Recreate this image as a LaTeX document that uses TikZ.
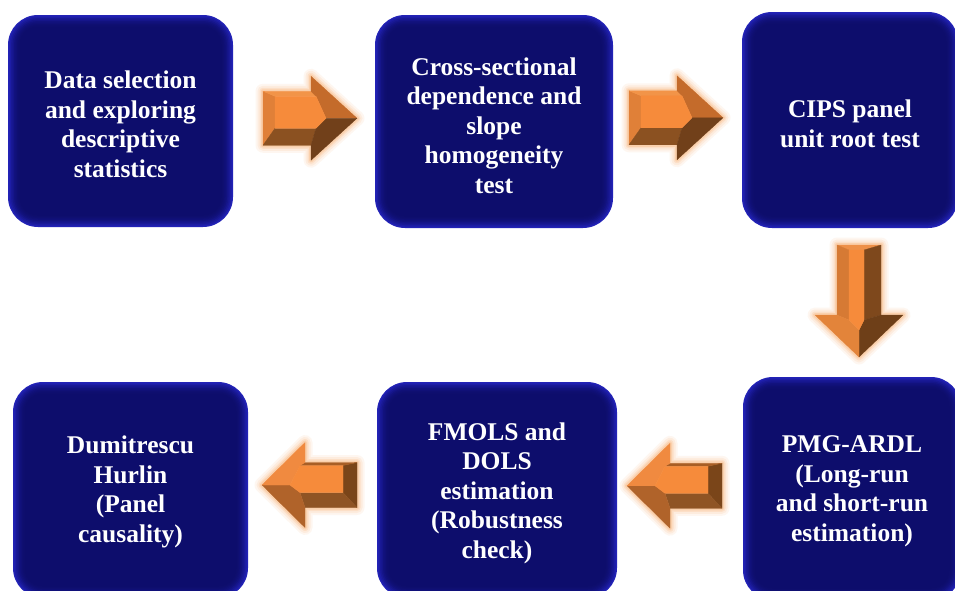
\documentclass[tikz,border=0pt]{standalone}
\usepackage{fontspec}
\setmainfont{Liberation Serif}
\usetikzlibrary{calc}
\definecolor{edgeblue}{RGB}{34,34,182}
\definecolor{coreblue}{RGB}{13,13,108}
\definecolor{front}{RGB}{246,139,59}
\definecolor{glowc}{RGB}{248,165,95}
% right-pointing arrows
\definecolor{raP}{RGB}{242,148,72}
\definecolor{raM}{RGB}{139,81,33}
\definecolor{raT}{RGB}{224,128,56}
\definecolor{raHP}{RGB}{196,107,43}
\definecolor{raHM}{RGB}{113,64,26}
\def\twra{12}
% down-pointing arrow
\definecolor{daP}{RGB}{126,72,28}
\definecolor{daM}{RGB}{214,122,52}
\definecolor{daT}{RGB}{238,144,72}
\definecolor{daHP}{RGB}{110,63,24}
\definecolor{daHM}{RGB}{227,132,58}
\def\twda{5}
% left-pointing arrows
\definecolor{laP}{RGB}{143,84,36}
\definecolor{laM}{RGB}{168,94,37}
\definecolor{laT}{RGB}{122,69,25}
\definecolor{laHP}{RGB}{176,99,42}
\definecolor{laHM}{RGB}{240,138,64}
\def\twla{14}
\tikzset{
  box/.style={rounded corners=30pt, fill=edgeblue, inner sep=0pt,
    path picture={
      \foreach \ii in {1,...,8}{
        \pgfmathsetmacro\dd{1.5*\ii}
        \pgfmathtruncatemacro\pp{100*(1-(1-\ii/8)^2)}
        \pgfmathsetmacro\rr{30-\dd}
        \fill[coreblue!\pp!edgeblue, rounded corners=\rr pt]
          ($(path picture bounding box.north west)+(\dd pt,-\dd pt)$) rectangle
          ($(path picture bounding box.south east)+(-\dd pt,\dd pt)$);
      }
    }},
  boxtext/.style={text=white, align=center, inner sep=0pt,
    font=\bfseries\fontsize{25.5}{29.5}\selectfont},
  face/.style={line width=0.3pt, line join=round},
}
\newcommand\bevarrow[9][ra]{%
  \begin{scope}[shift={(#2)}, rotate=#3, x=1pt, y=1pt]
    \pgfmathsetmacro\aL{#4/2}
    \pgfmathsetmacro\ah{#5}
    \pgfmathsetmacro\aH{#6}
    \pgfmathsetmacro\axb{#4/2-#7}
    \pgfmathsetmacro\adp{#8}
    \pgfmathsetmacro\adm{#9}
    \pgfmathsetmacro\adt{\csname tw#1\endcsname}
    \coordinate (oA) at (-\aL,\ah);
    \coordinate (oB) at (\axb,\ah);
    \coordinate (oC) at (\axb,\aH);
    \coordinate (oD) at (\aL,0);
    \coordinate (oE) at (\axb,-\aH);
    \coordinate (oF) at (\axb,-\ah);
    \coordinate (oG) at (-\aL,-\ah);
    \coordinate (ia) at (-\aL+\adt,\ah-\adp);
    \coordinate (ib) at (\axb+5,\ah-\adp);
    \coordinate (ip) at (\axb+15,0);
    \coordinate (if) at (\axb+5,-\ah+\adm);
    \coordinate (ig) at (-\aL+\adt,-\ah+\adm);
    \foreach \w/\o in {15/0.09,11/0.12,7/0.18,4/0.25}
      \draw[glowc, line width=\w pt, opacity=\o, line join=round]
        (oA)--(oB)--(oC)--(oD)--(oE)--(oF)--(oG)--cycle;
    \filldraw[face, fill=#1T, draw=#1T] (oA)--(ia)--(ig)--(oG)--cycle;
    \filldraw[face, fill=#1P, draw=#1P] (oA)--(oB)--(ib)--(ia)--cycle;
    \filldraw[face, fill=#1M, draw=#1M] (oG)--(oF)--(if)--(ig)--cycle;
    \filldraw[face, fill=#1HP, draw=#1HP] (oB)--(oC)--(oD)--(ip)--(ib)--cycle;
    \filldraw[face, fill=#1HM, draw=#1HM] (oD)--(oE)--(oF)--(if)--(ip)--cycle;
    \filldraw[face, fill=front, draw=front] (ia)--(ib)--(ip)--(if)--(ig)--cycle;
  \end{scope}}
\begin{document}
\begin{tikzpicture}[x=1pt, y=-1pt]
  \useasboundingbox (0,0) rectangle (955,590);
  \clip (0,0) rectangle (955,590);
  \fill[white] (0,0) rectangle (955,590);

  \node[box, minimum width=225pt, minimum height=212pt] (b1) at (120.5,121) {};
  \node[box, minimum width=238pt, minimum height=213pt] (b2) at (494,121.5) {};
  \node[box, minimum width=216pt, minimum height=216pt] (b3) at (850,120) {};
  \node[box, minimum width=218pt, minimum height=223pt] (b6) at (852,488.5) {};
  \node[box, minimum width=240pt, minimum height=216pt] (b5) at (497,490) {};
  \node[box, minimum width=235pt, minimum height=216pt] (b4) at (130.5,490) {};

  \node[boxtext] (t1) at ([yshift=-3.5pt]b1.center)
    {Data selection\\and exploring\\descriptive\\statistics};
  \node[boxtext] (t2) at ([yshift=-4pt]b2.center)
    {Cross-sectional\\dependence and\\slope\\homogeneity\\test};
  \node[boxtext] (t3) at ([yshift=-4pt]b3.center)
    {CIPS panel\\unit root test};
  \node[boxtext] (t6) at ([yshift=-3pt]b6.center)
    {PMG-ARDL\\(Long-run\\and short-run\\estimation)};
  \node[boxtext] (t5) at ([yshift=-3pt]b5.center)
    {FMOLS and\\DOLS\\estimation\\(Robustness\\check)};
  \node[boxtext] (t4) at ([yshift=-2pt]b4.center)
    {Dumitrescu\\Hurlin\\(Panel\\causality)};

  \coordinate (a1) at ($(b1.east)!0.5!(b2.west)+(6,-3)$);
  \coordinate (a2) at ($(b2.east)!0.5!(b3.west)+(-1.5,-3)$);
  \coordinate (a3) at ($(b3.south)!0.5!(b6.north)+(8,-1.5)$);
  \coordinate (a4) at ($(b6.west)!0.5!(b5.east)+(-5.5,-3.5)$);
  \coordinate (a5) at ($(b5.west)!0.5!(b4.east)+(-3,-5)$);

  \bevarrow[ra]{a1}{0}{94}{27}{42}{46}{5}{17}
  \bevarrow[ra]{a2}{0}{94}{27}{42}{46}{5}{17}
  \bevarrow[da]{a3}{-90}{112}{22}{44}{42}{17}{12}
  \bevarrow[la]{a4}{180}{95}{22.5}{42.5}{43}{15}{3}
  \bevarrow[la]{a5}{180}{95}{22.5}{42.5}{43}{15}{3}
\end{tikzpicture}
\end{document}
